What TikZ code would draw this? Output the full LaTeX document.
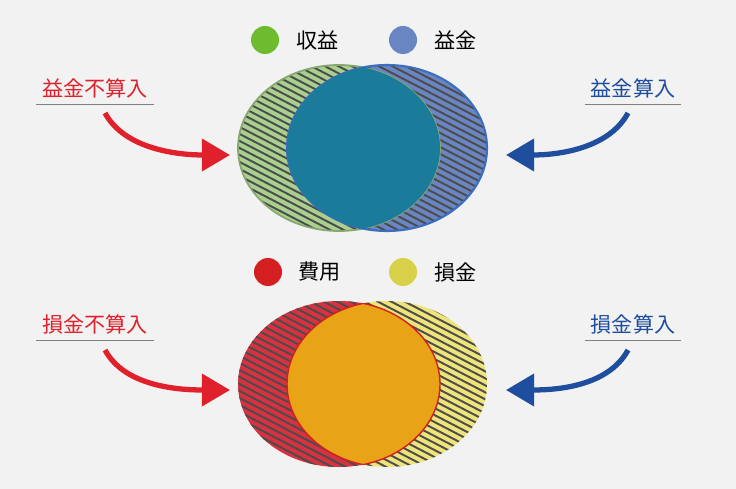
\documentclass[tikz,border=0pt]{standalone}
\usepackage{fontspec}
\setmainfont{Noto Sans CJK JP}
\usetikzlibrary{arrows.meta}
\definecolor{bgc}{HTML}{F2F2F2}
\definecolor{grn}{HTML}{A9D08E}
\definecolor{grnd}{HTML}{6DBB2E}
\definecolor{blu}{HTML}{6A86C2}
\definecolor{blud}{HTML}{3C6EC0}
\definecolor{teal}{HTML}{1A7B9A}
\definecolor{redf}{HTML}{D8313F}
\definecolor{redl}{HTML}{D42020}
\definecolor{yel}{HTML}{EFE47A}
\definecolor{yeld}{HTML}{D9D04A}
\definecolor{org}{HTML}{E8A317}
\definecolor{arrred}{HTML}{E0202A}
\definecolor{arrblu}{HTML}{1F4E9E}
\tikzset{
  side/.style={font=\large},
  lbl/.style={font=\large},
  hatch/.style={gray!60!black, line width=1.1pt},
  curvearr/.style={line width=3pt, -{Triangle[length=16pt,width=18pt]}}
}
\newcommand{\hatchlines}{\foreach \k in {-60,-53,...,260} \draw[hatch] (230,\k) -- (500,\k+140);}
\begin{document}
\begin{tikzpicture}[x=0.02cm,y=-0.02cm]
\fill[bgc] (0,0) rectangle (736,489);
\useasboundingbox (0,0) rectangle (736,489);
% legend
\fill[grnd] (265,40) circle (14);
\node[lbl, anchor=west] (l1) at (290,40) {収益};
\fill[blu] (403,40) circle (14);
\node[lbl, anchor=west] (l2) at (428,40) {益金};
\fill[redl] (268,272) circle (14);
\node[lbl, anchor=west] (l3) at (292,272) {費用};
\fill[yeld] (403,272) circle (14);
\node[lbl, anchor=west] (l4) at (428,272) {損金};
% top ellipses
\fill[grn] (339,148) ellipse (101 and 83);
\begin{scope}\clip (339,148) ellipse (101 and 83); \hatchlines \end{scope}
\fill[blu] (387,148) ellipse (100 and 83);
\begin{scope}\clip (387,148) ellipse (100 and 83); \hatchlines \end{scope}
\draw[grn!80!black, line width=1pt] (339,148) ellipse (101 and 83);
\draw[blud, line width=1.2pt] (387,148) ellipse (100 and 83);
\begin{scope}\clip (339,148) ellipse (101 and 83);
  \fill[teal] (387,148) ellipse (100 and 83); \end{scope}
% bottom ellipses
\fill[redf] (339,384) ellipse (101 and 83);
\begin{scope}\clip (339,384) ellipse (101 and 83); \foreach \k in {176,183,...,500} \draw[hatch] (230,\k) -- (500,\k+140); \end{scope}
\fill[yel] (387,384) ellipse (100 and 83);
\begin{scope}\clip (387,384) ellipse (100 and 83); \foreach \k in {176,183,...,500} \draw[hatch] (230,\k) -- (500,\k+140); \end{scope}
\begin{scope}\clip (339,384) ellipse (101 and 83);
  \fill[org] (387,384) ellipse (100 and 83); \end{scope}
\begin{scope}\clip (387,384) ellipse (100 and 83);
  \draw[redl, line width=0.8pt] (339,384) ellipse (101 and 83); \end{scope}
\begin{scope}\clip (339,384) ellipse (101 and 83);
  \draw[redl, line width=0.8pt] (387,384) ellipse (100 and 83); \end{scope}
% side labels
\node[side, text=arrred] (tl) at (95,88) {益金不算入};
\draw[gray] (tl.south west) -- (tl.south east);
\node[side, text=arrblu] (tr) at (633,88) {益金算入};
\draw[gray] (tr.south west) -- (tr.south east);
\node[side, text=arrred] (bl) at (95,324) {損金不算入};
\draw[gray] (bl.south west) -- (bl.south east);
\node[side, text=arrblu] (br) at (633,324) {損金算入};
\draw[gray] (br.south west) -- (br.south east);
% arrows
\coordinate (ta) at (230,155);
\coordinate (tb) at (506,155);
\coordinate (ba) at (230,390);
\coordinate (bb) at (506,390);
\draw[curvearr, arrred] (105,113) .. controls (125,150) and (180,155) .. (ta);
\draw[curvearr, arrblu] (628,113) .. controls (608,150) and (555,155) .. (tb);
\draw[curvearr, arrred] (105,350) .. controls (125,387) and (180,390) .. (ba);
\draw[curvearr, arrblu] (628,350) .. controls (608,387) and (555,390) .. (bb);
\end{tikzpicture}
\end{document}
